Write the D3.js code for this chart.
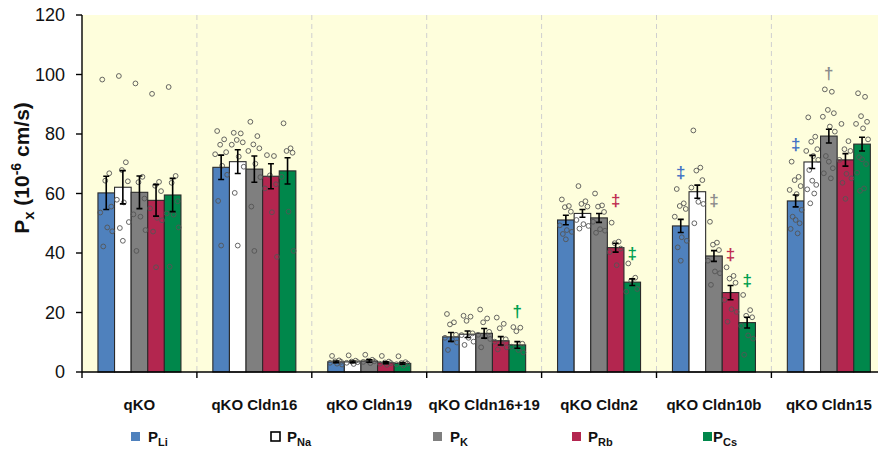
<!DOCTYPE html>
<html>
<head>
<meta charset="utf-8">
<script src="https://cdn.jsdelivr.net/npm/d3@7"></script>
<style>
  body { margin: 0; background: #fff; }
  svg { display: block; font-family: Arial, "Liberation Sans", sans-serif; }
</style>
</head>
<body>
<svg id="chart" width="878" height="452"></svg>
<script>
// Cation permeabilities per cell line (10^-6 cm/s): mean, SEM and individual measurements
const categories = ["qKO", "qKO Cldn16", "qKO Cldn19", "qKO Cldn16+19", "qKO Cldn2", "qKO Cldn10b", "qKO Cldn15"];
const seriesKeys = ["Li", "Na", "K", "Rb", "Cs"];
const yTicks = [0, 20, 40, 60, 80, 100, 120];

const meanLi = [60.2, 68.8, 3.4, 11.8, 51.1, 49.1, 57.5];
const meanNa = [62.1, 70.7, 3.4, 12.7, 53.3, 60.6, 70.6];
const meanK  = [60.4, 68.2, 3.7, 13.0, 51.8, 39.0, 79.3];
const meanRb = [57.7, 65.8, 3.1, 10.5, 41.8, 26.7, 71.3];
const meanCs = [59.5, 67.6, 2.9,  9.1, 30.2, 16.6, 76.6];

const semLi = [5.6, 4.1, 0.3, 1.5, 1.6, 2.2, 2.0];
const semNa = [5.6, 4.0, 0.3, 1.1, 1.3, 2.2, 2.2];
const semK  = [5.5, 4.4, 0.4, 1.6, 1.5, 1.8, 2.3];
const semRb = [5.3, 4.2, 0.3, 1.4, 1.5, 2.4, 2.1];
const semCs = [5.6, 4.4, 0.3, 1.1, 1.1, 1.8, 2.3];

const pointsLi = [
  [98.3, 66.8, 64.3, 55.6, 53.6, 48.6, 47.3, 42.2],
  [81.0, 78.2, 76.4, 73.9, 73.2, 69.3, 66.3, 57.5, 42.5],
  [5.4, 3.9, 3.6, 3.4, 3.1, 2.8, 2.5],
  [19.5, 16.7, 16.0, 12.5, 11.5, 10.8, 9.9, 7.4],
  [58.0, 55.8, 55.4, 53.9, 49.3, 47.7, 47.1, 46.4, 44.6],
  [61.5, 56.7, 55.8, 54.8, 52.2, 45.3, 44.1, 41.9, 37.4],
  [70.7, 65.6, 64.5, 62.5, 61.2, 59.8, 54.5, 52.2, 51.1, 50.0, 48.1, 46.6]
];
const pointsNa = [
  [99.5, 70.5, 67.9, 64.1, 57.9, 57.0, 50.4, 48.4, 44.1],
  [80.4, 80.2, 78.0, 77.2, 76.4, 72.4, 69.0, 60.2, 42.5],
  [5.6, 3.8, 3.5, 3.3, 3.1, 2.7],
  [18.9, 18.6, 17.2, 13.0, 12.4, 11.5, 10.2, 9.1],
  [62.5, 57.4, 56.5, 55.6, 51.1, 49.7, 49.1, 48.2],
  [81.2, 68.7, 67.7, 64.5, 62.0, 57.2, 56.5, 50.0],
  [85.6, 79.1, 77.4, 74.9, 74.3, 72.6, 71.3, 67.9, 64.3, 62.9, 61.4, 60.0, 56.7]
];
const pointsK = [
  [97.0, 65.6, 63.8, 58.3, 53.0, 52.2, 47.7, 40.7],
  [84.1, 79.3, 76.5, 75.2, 74.3, 70.0, 65.5, 55.6, 40.7],
  [5.8, 4.1, 3.8, 3.6, 3.4, 3.0],
  [21.0, 18.0, 16.7, 13.5, 12.5, 11.9, 11.1, 8.3],
  [60.0, 56.0, 55.6, 53.8, 50.5, 48.0, 47.5, 46.8],
  [50.5, 43.5, 42.8, 41.0, 37.4, 33.8, 33.2, 29.3],
  [95.0, 94.2, 88.1, 87.0, 85.8, 82.5, 80.8, 72.6, 70.7, 68.5, 66.8, 65.1]
];
const pointsRb = [
  [93.5, 63.9, 62.6, 60.8, 55.0, 51.8, 51.0, 47.2, 35.2],
  [72.9, 72.6, 66.1, 63.1, 61.7, 53.7, 38.7],
  [5.4, 3.5, 3.2, 3.0, 2.8, 2.4],
  [18.3, 16.2, 14.7, 11.0, 10.2, 9.4, 8.3, 7.6],
  [50.2, 43.8, 43.3, 41.5, 40.3, 35.9],
  [35.2, 32.3, 31.4, 30.0, 24.2, 21.1, 20.2, 16.9],
  [83.4, 77.6, 74.9, 74.3, 71.3, 66.6, 65.1, 63.6, 58.2]
];
const pointsCs = [
  [95.8, 65.9, 63.6, 57.4, 53.3, 52.9, 48.6, 35.4],
  [83.6, 75.2, 74.3, 73.7, 65.6, 53.9, 40.7],
  [5.3, 3.3, 3.0, 2.8, 2.6, 2.2],
  [15.1, 14.9, 13.7, 9.5, 8.5, 7.4, 6.6],
  [36.5, 31.7, 30.7, 27.9, 27.0],
  [25.9, 20.8, 18.9, 18.4, 15.5, 12.3, 11.2, 5.8],
  [93.7, 92.5, 86.0, 84.1, 83.4, 81.9, 78.2, 72.2, 71.5, 69.9, 67.0, 61.7, 60.9]
];

// Significance marks: group, series, symbol and the level they sit at
const markGroups  = ["qKO Cldn16+19", "qKO Cldn2", "qKO Cldn2", "qKO Cldn10b", "qKO Cldn10b", "qKO Cldn10b", "qKO Cldn10b", "qKO Cldn15", "qKO Cldn15"];
const markSeries  = ["Cs", "Rb", "Cs", "Li", "K", "Rb", "Cs", "Li", "K"];
const markSymbols = ["\u2020", "\u2021", "\u2021", "\u2021", "\u2021", "\u2021", "\u2021", "\u2021", "\u2020"];
const markLevels  = [20.5, 57.8, 39.7, 67.0, 57.6, 39.4, 30.9, 76.5, 100.4];

(function draw() {
  const means = { Li: meanLi, Na: meanNa, K: meanK, Rb: meanRb, Cs: meanCs };
  const sems  = { Li: semLi,  Na: semNa,  K: semK,  Rb: semRb,  Cs: semCs };
  const pts   = { Li: pointsLi, Na: pointsNa, K: pointsK, Rb: pointsRb, Cs: pointsCs };

  const barFill  = { Li: "#4f81bd", Na: "#ffffff", K: "#7f7f7f", Rb: "#b3264f", Cs: "#00874b" };
  const markFill = { Li: "#4472c4", Na: "#333333", K: "#8c8c8c", Rb: "#c02f52", Cs: "#00a050" };

  const svg = d3.select("#chart");

  const plotLeft = 82, plotTop = 15, plotBottom = 372, groupW = 114.9;
  const x = d3.scaleBand().domain(categories).range([plotLeft, plotLeft + groupW * categories.length]).padding(0);
  const xs = d3.scaleBand().domain(seriesKeys).range([groupW / 2 - 41.5, groupW / 2 + 41.5]).padding(0);
  const y = d3.scaleLinear().domain([0, 120]).range([plotBottom, plotTop]);

  // plot background
  svg.append("rect").attr("x", plotLeft).attr("y", plotTop)
    .attr("width", 878 - plotLeft).attr("height", plotBottom - plotTop).attr("fill", "#fefedc");

  // dashed separators between cell lines
  svg.append("g").selectAll("line").data(categories.slice(1)).join("line")
    .attr("x1", d => x(d)).attr("x2", d => x(d))
    .attr("y1", plotTop).attr("y2", plotBottom)
    .attr("stroke", "#cfcfcf").attr("stroke-width", 1).attr("stroke-dasharray", "5,4");

  // bars
  const rows = [];
  categories.forEach((c, gi) => seriesKeys.forEach(k => rows.push({
    c, k, gi, mean: means[k][gi], sem: sems[k][gi], pts: pts[k][gi]
  })));

  const g = svg.append("g");
  g.selectAll("rect.bar").data(rows).join("rect").attr("class", "bar")
    .attr("x", d => x(d.c) + xs(d.k))
    .attr("y", d => y(d.mean))
    .attr("width", xs.bandwidth())
    .attr("height", d => y(0) - y(d.mean))
    .attr("fill", d => barFill[d.k])
    .attr("stroke", "#2b2b2b").attr("stroke-width", 1.1);

  // individual measurements, spread across the bar
  const spread = [-4, 3, -1, 5, -6, 1, 6, -3, 0, 4, -5, 2, -2];
  rows.forEach(d => {
    const cx = x(d.c) + xs(d.k) + xs.bandwidth() / 2;
    g.append("g").selectAll("circle").data(d.pts).join("circle")
      .attr("cx", (v, i) => cx + spread[i % spread.length])
      .attr("cy", v => y(v))
      .attr("r", 2.4)
      .attr("fill", "none")
      .attr("stroke", "#555").attr("stroke-width", 0.9);
  });

  // SEM error bars
  const eb = g.append("g").attr("stroke", "#000").attr("stroke-width", 1.6).attr("fill", "none");
  rows.forEach(d => {
    const cx = x(d.c) + xs(d.k) + xs.bandwidth() / 2;
    const y1 = y(d.mean + d.sem), y2 = y(d.mean - d.sem);
    eb.append("path").attr("d", `M${cx},${y1}V${y2}M${cx - 3},${y1}H${cx + 3}M${cx - 3},${y2}H${cx + 3}`);
  });

  // significance symbols
  svg.append("g").selectAll("text").data(markSymbols).join("text")
    .attr("x", (s, i) => x(markGroups[i]) + xs(markSeries[i]) + xs.bandwidth() / 2)
    .attr("y", (s, i) => y(markLevels[i]))
    .attr("text-anchor", "middle").attr("dominant-baseline", "central")
    .attr("font-size", 17).attr("font-weight", "bold")
    .attr("fill", (s, i) => markFill[markSeries[i]])
    .text(s => s);

  // y axis
  const ya = svg.append("g");
  ya.append("line").attr("x1", plotLeft).attr("x2", plotLeft).attr("y1", plotTop).attr("y2", plotBottom)
    .attr("stroke", "#000").attr("stroke-width", 1.4);
  ya.selectAll("line.t").data(yTicks).join("line").attr("class", "t")
    .attr("x1", plotLeft - 6).attr("x2", plotLeft).attr("y1", d => y(d)).attr("y2", d => y(d))
    .attr("stroke", "#000").attr("stroke-width", 1.4);
  ya.selectAll("text").data(yTicks).join("text")
    .attr("x", plotLeft - 17).attr("y", d => y(d)).attr("dy", "0.36em")
    .attr("text-anchor", "end").attr("font-size", 18).attr("fill", "#111")
    .text(d => d);

  // x axis
  const xa = svg.append("g");
  xa.append("line").attr("x1", plotLeft).attr("x2", 878).attr("y1", plotBottom).attr("y2", plotBottom)
    .attr("stroke", "#000").attr("stroke-width", 1.4);
  xa.selectAll("line.t").data(categories).join("line").attr("class", "t")
    .attr("x1", d => x(d)).attr("x2", d => x(d)).attr("y1", plotBottom).attr("y2", plotBottom + 6)
    .attr("stroke", "#000").attr("stroke-width", 1.4);
  xa.selectAll("text").data(categories).join("text")
    .attr("x", d => x(d) + groupW / 2).attr("y", 410)
    .attr("text-anchor", "middle").attr("font-size", 15).attr("font-weight", "bold").attr("fill", "#111")
    .text(d => d);

  // y axis title
  const yt = svg.append("text")
    .attr("transform", "translate(29,168) rotate(-90)")
    .attr("text-anchor", "middle").attr("font-size", 21).attr("font-weight", "bold").attr("fill", "#111");
  yt.append("tspan").text("P");
  yt.append("tspan").attr("dy", 5).attr("font-size", 15).text("x");
  yt.append("tspan").attr("dy", -5).text(" (10");
  yt.append("tspan").attr("dy", -8).attr("font-size", 14).text("-6");
  yt.append("tspan").attr("dy", 8).text(" cm/s)");

  // legend
  const legendX = [131, 271, 433, 572, 703];
  const legendGap = [17, 16, 17, 16, 10];
  const lg = svg.append("g").selectAll("g").data(seriesKeys).join("g")
    .attr("transform", (k, i) => `translate(${legendX[i]},432)`);
  lg.append("rect").attr("width", 9).attr("height", 9)
    .attr("fill", k => barFill[k])
    .attr("stroke", k => k === "Na" ? "#000" : "none").attr("stroke-width", 1.6);
  const lt = lg.append("text").attr("x", (k, i) => legendGap[i]).attr("y", 10)
    .attr("font-size", 15).attr("font-weight", "bold").attr("fill", "#111");
  lt.append("tspan").text("P");
  lt.append("tspan").attr("dy", 4).attr("font-size", 11).text(k => k);
})();
</script>
</body>
</html>
